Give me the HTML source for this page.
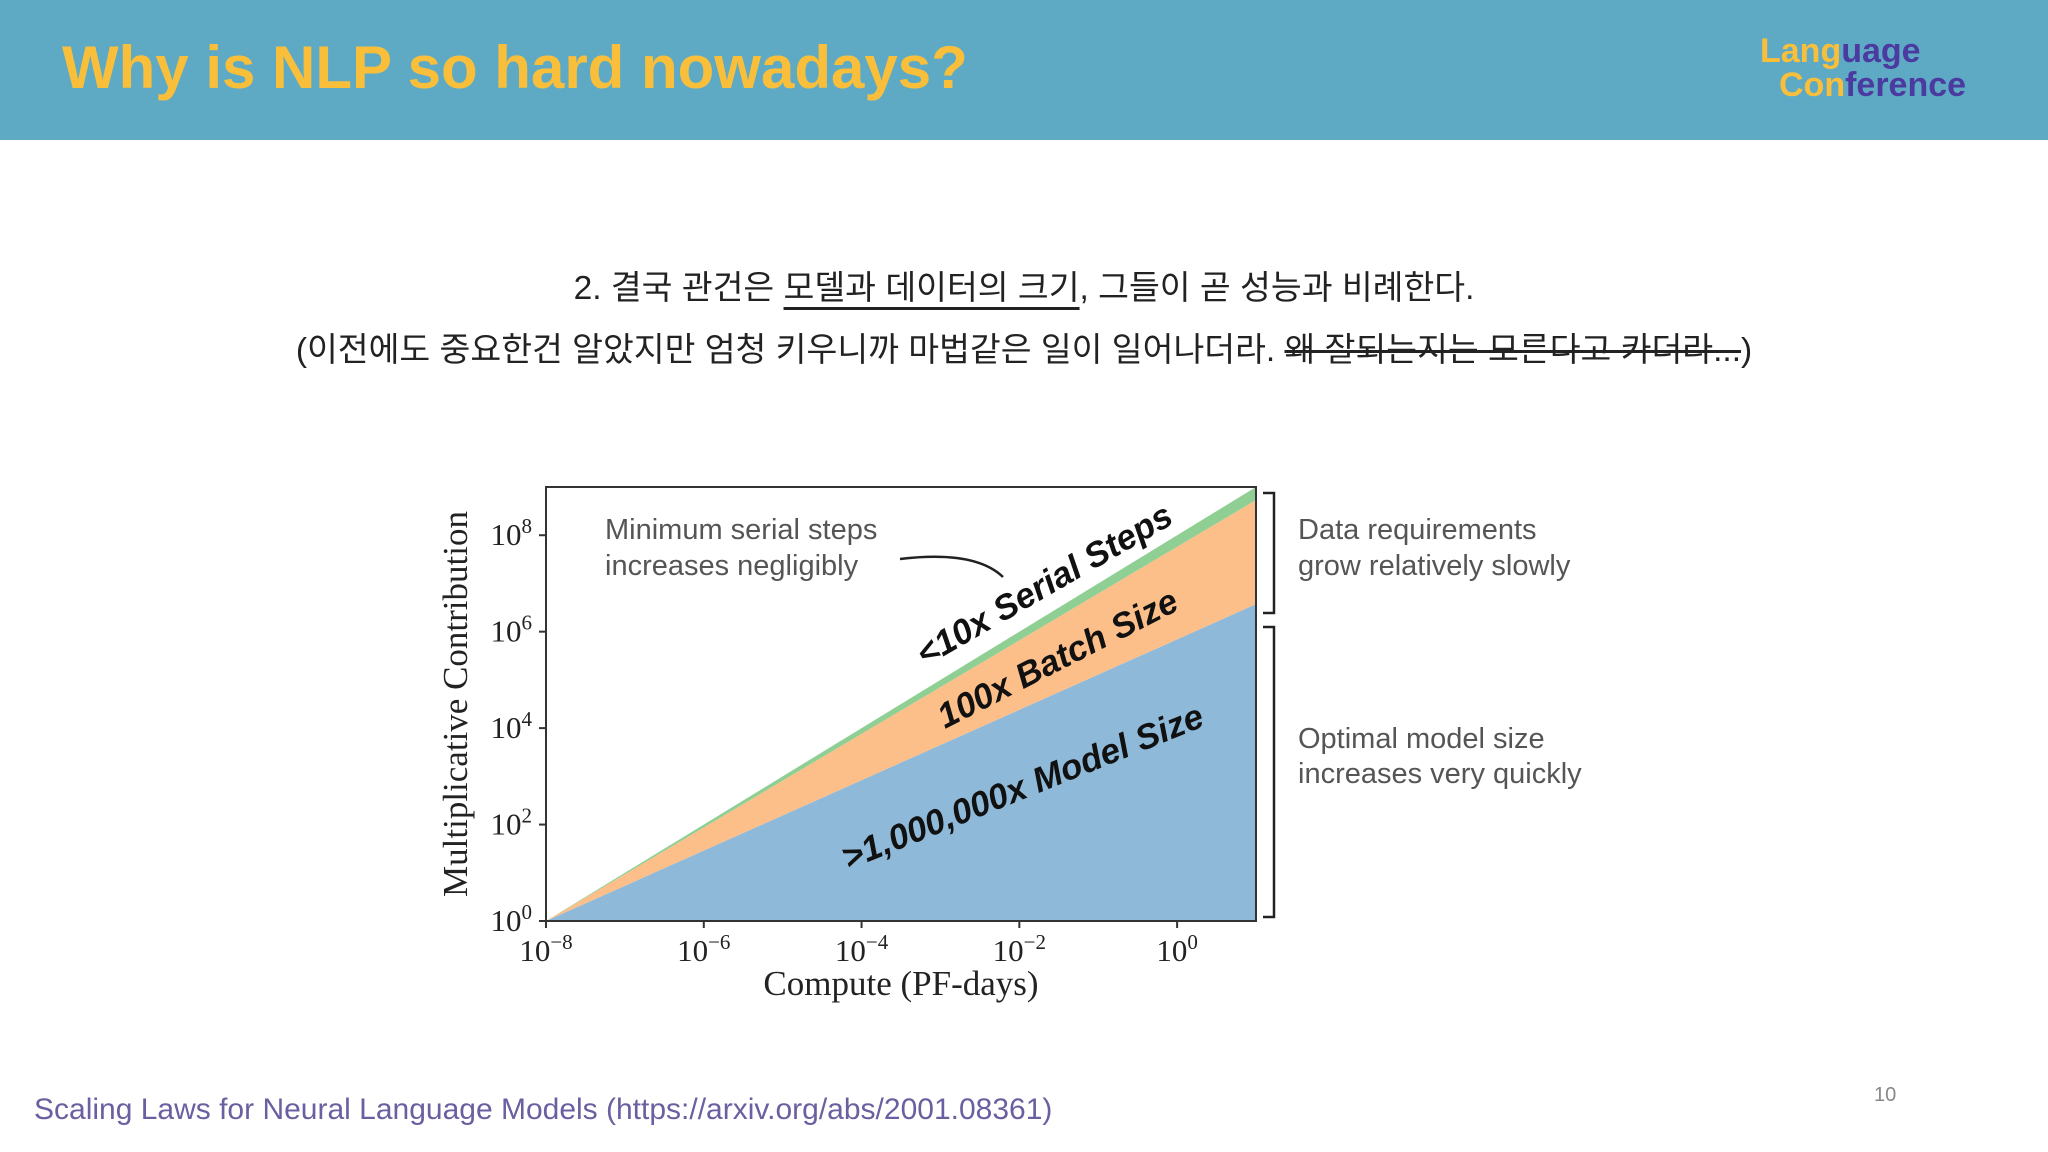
<!DOCTYPE html>
<html><head><meta charset="utf-8">
<style>
html,body{margin:0;padding:0;background:#fff;}
body{width:2048px;height:1152px;position:relative;overflow:hidden;font-family:"Liberation Sans","Noto Sans CJK KR",sans-serif;}
#hdr{position:absolute;left:0;top:0;width:2048px;height:140px;background:#5eaac4;}
#title{position:absolute;left:62px;top:33px;font-size:60px;font-weight:bold;color:#f9bf3b;white-space:nowrap;}
.logo{position:absolute;font-size:34px;font-weight:bold;white-space:nowrap;}
.y{color:#f9bf3b}.p{color:#4b3aa0}
.kline{position:absolute;left:0;width:2048px;text-align:center;font-size:33.5px;color:#222;white-space:nowrap;}
#foot{position:absolute;left:34px;top:1093px;font-size:30px;color:#6a5fa0;white-space:nowrap;}
#pnum{position:absolute;left:1874px;top:1084px;font-size:20px;color:#888;}
</style></head><body>
<div id="hdr"></div>
<div id="title">Why is NLP so hard nowadays?</div>
<div class="logo" style="left:1760px;top:32px"><span class="y">Lang</span><span class="p">uage</span></div>
<div class="logo" style="left:1779px;top:66px"><span class="y">Con</span><span class="p">ference</span></div>
<div class="kline" style="top:260px">2. 결국 관건은 <span style="text-decoration:underline;text-underline-offset:8px">모델과 데이터의 크기</span>, 그들이 곧 성능과 비례한다.</div>
<div class="kline" style="top:322px">(이전에도 중요한건 알았지만 엄청 키우니까 마법같은 일이 일어나더라. <span style="text-decoration:line-through">왜 잘되는지는 모른다고 카더라...</span>)</div>

<svg id="chart" style="position:absolute;left:0;top:0" width="2048" height="1152" viewBox="0 0 2048 1152">
<g id="marks"></g>
<g id="axes"></g>
</svg>

<div id="foot">Scaling Laws for Neural Language Models (https://arxiv.org/abs/2001.08361)</div>
<div id="pnum">10</div>

<script>
// data (log10 values)
const xDecades = [-8, 1];            // compute range, PF-days exponent
const modelSize = [0, 6.57];         // log10 contribution of model size
const batchSize = [0, 2.16];         // log10 contribution of batch size
const serialSteps = [0, 0.27];       // log10 contribution of serial steps
const xTicks = [-8, -6, -4, -2, 0];
const yTicks = [0, 2, 4, 6, 8];

const L=546,R=1256,T=487,B=921;
const xMin=-8,xMax=1,yMin=0,yMax=9;
const xs=v=>L+(v-xMin)/(xMax-xMin)*(R-L);
const ys=v=>B-(v-yMin)/(yMax-yMin)*(B-T);
const NS="http://www.w3.org/2000/svg";
const marks=document.getElementById('marks'), axes=document.getElementById('axes');
function mk(tag,attrs,parent){const e=document.createElementNS(NS,tag);for(const k in attrs)e.setAttribute(k,attrs[k]);parent.appendChild(e);return e;}

const c1=modelSize, c2=modelSize.map((v,i)=>v+batchSize[i]), c3=c2.map((v,i)=>v+serialSteps[i]);
function band(lo,hi,fill,name){
  let d='M'+xDecades.map((x,i)=>xs(x)+','+ys(hi[i])).join('L');
  for(let i=xDecades.length-1;i>=0;i--) d+='L'+xs(xDecades[i])+','+ys(lo?lo[i]:0);
  const p=mk('path',{d:d+'Z',fill:fill},marks);
  
  
}
band(null,c1,'#8fb9d8','model-size-area');
band(c1,c2,'#fcbf8a','batch-size-area');
band(c2,c3,'#8fcf94','serial-steps-area');

const fr=mk('rect',{x:L,y:T,width:R-L,height:B-T,fill:'none',stroke:'#333','stroke-width':2},axes);



xTicks.forEach(t=>{
  const x=xs(t);
  mk('line',{x1:x,y1:B,x2:x,y2:B+7,stroke:'#333','stroke-width':2},axes);
  const tx=mk('text',{x:x,y:B+40,'text-anchor':'middle','font-family':'Liberation Serif, serif','font-size':31,fill:'#222'},axes);
  
  
  tx.innerHTML='10<tspan dy="-12" font-size="21">'+(t<0?'\u2212'+(-t):t)+'</tspan>';
});
yTicks.forEach(t=>{
  const y=ys(t);
  mk('line',{x1:L-7,y1:y,x2:L,y2:y,stroke:'#333','stroke-width':2},axes);
  const tx=mk('text',{x:L-14,y:y+10,'text-anchor':'end','font-family':'Liberation Serif, serif','font-size':31,fill:'#222'},axes);
  
  
  tx.innerHTML='10<tspan dy="-12" font-size="21">'+t+'</tspan>';
});
function txt(s,attrs,name){const e=mk('text',attrs,axes);e.textContent=s;return e;}
txt('Compute (PF-days)',{x:(L+R)/2,y:995,'text-anchor':'middle','font-family':'Liberation Serif, serif','font-size':35,fill:'#222'},'x-axis-title');
txt('Multiplicative Contribution',{x:0,y:0,transform:'translate(467,704) rotate(-90)','text-anchor':'middle','font-family':'Liberation Serif, serif','font-size':35,fill:'#222'},'y-axis-title');
const lab={'font-family':'Liberation Sans, sans-serif','font-size':35,fill:'#111','font-style':'italic','font-weight':'bold'};
txt('<10x Serial Steps',Object.assign({x:0,y:0,transform:'translate(925,667) rotate(-30)'},lab),'serial-steps-label');
txt('100x Batch Size',Object.assign({x:0,y:0,transform:'translate(945,729) rotate(-27)'},lab),'batch-size-label');
txt('>1,000,000x Model Size',Object.assign({x:0,y:0,transform:'translate(848,870) rotate(-22)'},lab),'model-size-label');
const g={'font-family':'Liberation Sans, sans-serif','font-size':29,fill:'#555'};
txt('Minimum serial steps',Object.assign({x:605,y:539},g),'annotation-line1');
txt('increases negligibly',Object.assign({x:605,y:575},g),'annotation-line2');
txt('Data requirements',Object.assign({x:1298,y:539},g),'data-note-line1');
txt('grow relatively slowly',Object.assign({x:1298,y:575},g),'data-note-line2');
txt('Optimal model size',Object.assign({x:1298,y:748},g),'model-note-line1');
txt('increases very quickly',Object.assign({x:1298,y:783},g),'model-note-line2');
const arr=mk('path',{d:'M900,559 Q975,550 1003,577',fill:'none',stroke:'#222','stroke-width':2.5},axes);


const b1=mk('path',{d:'M1263,493 H1274 V613 H1263',fill:'none',stroke:'#222','stroke-width':2.5},axes);


const b2=mk('path',{d:'M1263,627 H1274 V917 H1263',fill:'none',stroke:'#222','stroke-width':2.5},axes);


</script>
</body></html>
